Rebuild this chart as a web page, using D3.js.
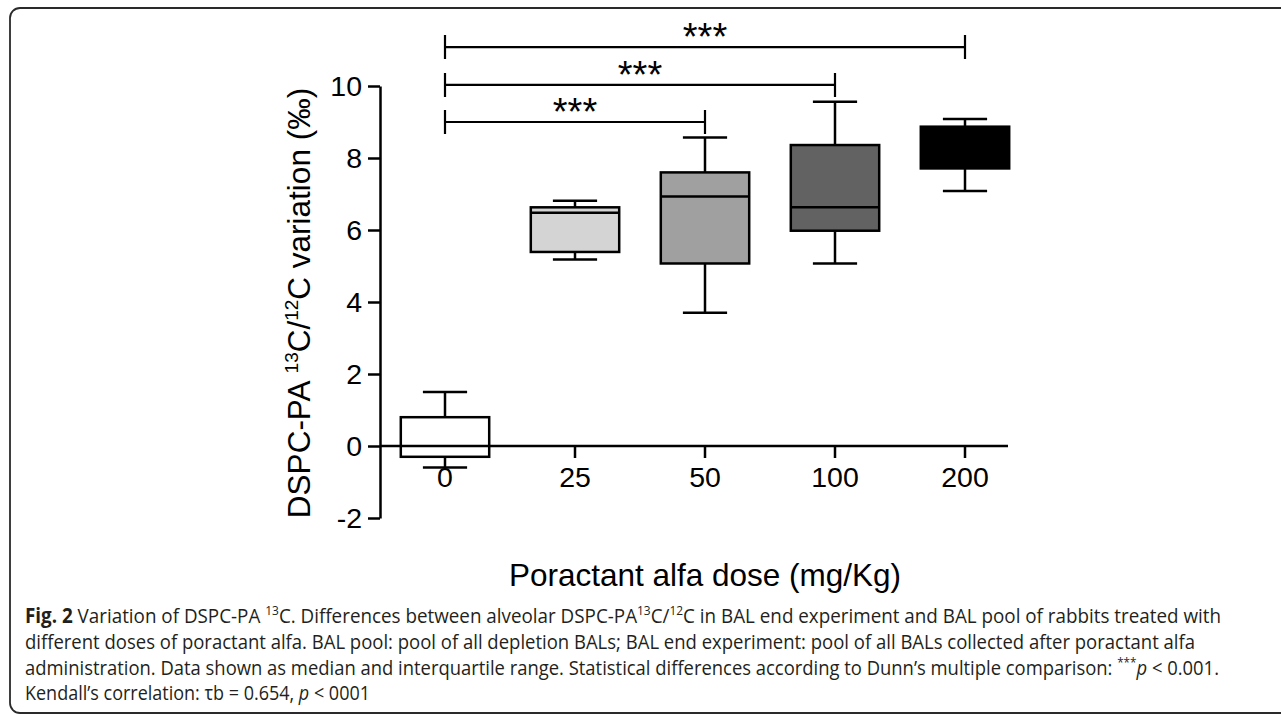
<!DOCTYPE html>
<html>
<head>
<meta charset="utf-8">
<script src="https://cdn.jsdelivr.net/npm/d3@7"></script>
<style>
  body { margin: 0; background: #fff; }
  svg { display: block; }
</style>
</head>
<body>
<svg id="chart" width="1281" height="714"></svg>
<script>
// data
var doses = ["0", "25", "50", "100", "200"];
var whiskLow  = [-0.6, 5.18, 3.7, 5.07, 7.08];
var q1        = [-0.3, 5.39, 5.07, 5.98, 7.71];
var medians   = [0.0, 6.48, 6.93, 6.63, 8.3];
var q3        = [0.8, 6.63, 7.6, 8.36, 8.87];
var whiskHigh = [1.5, 6.81, 8.57, 9.56, 9.08];
var boxFill = ["#ffffff", "#d4d4d4", "#a0a0a0", "#626262", "#000000"];

var yTicks = [-2, 0, 2, 4, 6, 8, 10];

// Dunn's comparisons against dose 0
var compTo = ["50", "100", "200"];
var compLevel = [9.0, 10.03, 11.08];
var compLabel = ["***", "***", "***"];

var svg = d3.select("#chart");
var font = "'Liberation Sans', Arial, Helvetica, sans-serif";

// frame
svg.append("path")
    .attr("d", "M1281,8H20A10,10 0 0 0 10,18V703A10,10 0 0 0 20,713H1281")
    .attr("fill", "none").attr("stroke", "#2a2a2a").attr("stroke-width", 1.8);

var x = d3.scaleBand().domain(doses).range([380, 1030]);
var y = d3.scaleLinear().domain([-2, 10]).range([518, 86]);
var cx = function (d) { return x(d) + x.bandwidth() / 2; };
var boxW = x.step() * 0.68;

// y axis
var yAxis = svg.append("g")
    .attr("transform", "translate(380,0)")
    .call(d3.axisLeft(y).tickValues(yTicks).tickSize(12).tickSizeOuter(0).tickPadding(6)
        .tickFormat(function (d) { return String(d); }));
yAxis.selectAll("path, line").attr("stroke", "#000").attr("stroke-width", 2.5);
yAxis.selectAll("text").attr("font-family", font).attr("font-size", 28.5).attr("fill", "#000");

// x axis at y = 0
var xAxis = svg.append("g")
    .attr("transform", "translate(0," + y(0) + ")")
    .call(d3.axisBottom(x).tickSize(12).tickSizeOuter(0).tickPadding(9));
xAxis.select(".domain").attr("d", "M" + x.range()[0] + ",0H" + (x.range()[1] - 22));
xAxis.selectAll("path, line").attr("stroke", "#000").attr("stroke-width", 2.5);
xAxis.selectAll("text").attr("font-family", font).attr("font-size", 28.5).attr("fill", "#000");

// boxes
var boxes = svg.append("g").selectAll("g")
    .data(doses).enter().append("g")
    .attr("fill", "none").attr("stroke", "#000").attr("stroke-width", 2.5);

boxes.append("line")
    .attr("x1", cx).attr("x2", cx)
    .attr("y1", function (d, i) { return y(whiskLow[i]); })
    .attr("y2", function (d, i) { return y(whiskHigh[i]); });
boxes.append("line")
    .attr("x1", function (d) { return cx(d) - boxW / 4; })
    .attr("x2", function (d) { return cx(d) + boxW / 4; })
    .attr("y1", function (d, i) { return y(whiskHigh[i]); })
    .attr("y2", function (d, i) { return y(whiskHigh[i]); });
boxes.append("line")
    .attr("x1", function (d) { return cx(d) - boxW / 4; })
    .attr("x2", function (d) { return cx(d) + boxW / 4; })
    .attr("y1", function (d, i) { return y(whiskLow[i]); })
    .attr("y2", function (d, i) { return y(whiskLow[i]); });
boxes.append("rect")
    .attr("x", function (d) { return cx(d) - boxW / 2; })
    .attr("width", boxW)
    .attr("y", function (d, i) { return y(q3[i]); })
    .attr("height", function (d, i) { return y(q1[i]) - y(q3[i]); })
    .attr("fill", function (d, i) { return boxFill[i]; });
boxes.append("line")
    .attr("x1", function (d) { return cx(d) - boxW / 2; })
    .attr("x2", function (d) { return cx(d) + boxW / 2; })
    .attr("y1", function (d, i) { return y(medians[i]); })
    .attr("y2", function (d, i) { return y(medians[i]); });

// significance brackets
var brackets = svg.append("g").selectAll("g")
    .data(compTo).enter().append("g");
brackets.append("path")
    .attr("fill", "none").attr("stroke", "#000").attr("stroke-width", 2.2)
    .attr("d", function (d, i) {
        var yy = y(compLevel[i]), x0 = cx(doses[0]), x1 = cx(d);
        return "M" + x0 + "," + (yy - 12) + "V" + (yy + 12) + "M" + x0 + "," + yy +
            "H" + x1 + "M" + x1 + "," + (yy - 12) + "V" + (yy + 12);
    });
brackets.append("text")
    .attr("x", function (d) { return (cx(doses[0]) + cx(d)) / 2; })
    .attr("y", function (d, i) { return y(compLevel[i]) + 3; })
    .attr("text-anchor", "middle")
    .attr("font-family", font).attr("font-size", 38).attr("fill", "#000")
    .text(function (d, i) { return compLabel[i]; });

// axis titles
svg.append("text")
    .attr("x", (cx(doses[0]) + cx(doses[doses.length - 1])) / 2).attr("y", 586)
    .attr("text-anchor", "middle")
    .attr("font-family", font).attr("font-size", 31.5).attr("fill", "#000")
    .text("Poractant alfa dose (mg/Kg)");

var yl = svg.append("text")
    .attr("transform", "translate(310,303) rotate(-90)")
    .attr("text-anchor", "middle")
    .attr("font-family", font).attr("font-size", 31.5).attr("fill", "#000");
yl.append("tspan").text("DSPC-PA ");
yl.append("tspan").attr("font-size", 19).attr("dy", -12).text("13");
yl.append("tspan").attr("dy", 12).text("C/");
yl.append("tspan").attr("font-size", 19).attr("dy", -12).text("12");
yl.append("tspan").attr("dy", 12).text("C variation (‰)");

// caption
var capFont = "'Open Sans', 'Noto Sans', sans-serif";
var capLines = [
    { y: 623, w: 1196, parts: [
        { t: "Fig. 2", b: true }, { t: " Variation of DSPC-PA " }, { t: "13", s: true },
        { t: "C. Differences between alveolar DSPC-PA" }, { t: "13", s: true }, { t: "C/" },
        { t: "12", s: true }, { t: "C in BAL end experiment and BAL pool of rabbits treated with" }] },
    { y: 649, w: 1170, parts: [
        { t: "different doses of poractant alfa. BAL pool: pool of all depletion BALs; BAL end experiment: pool of all BALs collected after poractant alfa" }] },
    { y: 674.5, w: 1194, parts: [
        { t: "administration. Data shown as median and interquartile range. Statistical differences according to Dunn\u2019s multiple comparison: " },
        { t: "***", s: true }, { t: "p", i: true }, { t: " < 0.001." }] },
    { y: 700, w: 345, parts: [
        { t: "Kendall\u2019s correlation: \u03c4b = 0.654, " }, { t: "p", i: true }, { t: " < 0001" }] }
];

capLines.forEach(function (line) {
    var t = svg.append("text")
        .attr("x", 25).attr("y", line.y)
        .attr("font-family", capFont).attr("font-size", 20.5).attr("fill", "#231f20")
        .attr("textLength", line.w).attr("lengthAdjust", "spacingAndGlyphs");
    var up = false;
    line.parts.forEach(function (p) {
        var ts = t.append("tspan").text(p.t);
        if (p.b) ts.attr("font-weight", "bold");
        if (p.i) ts.attr("font-style", "italic");
        if (p.s) { ts.attr("font-size", 13).attr("dy", -8); up = true; }
        else if (up) { ts.attr("dy", 8); up = false; }
    });
});
</script>
</body>
</html>
